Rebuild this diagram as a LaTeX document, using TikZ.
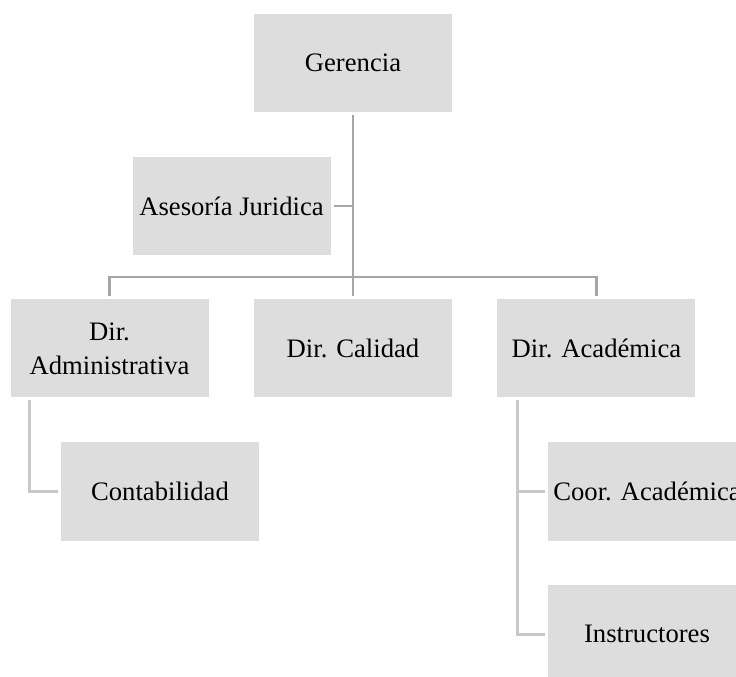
\documentclass[tikz,border=0pt]{standalone}
\usepackage{fontspec}
\setmainfont{Liberation Serif}
\usetikzlibrary{positioning}
\definecolor{boxgray}{HTML}{DDDDDD}
\definecolor{linegray}{HTML}{A6A6A6}
\definecolor{sublinegray}{HTML}{C8C8C8}

\begin{document}
\begin{tikzpicture}[x=0.75pt, y=-0.75pt, node distance={182.6pt},
  main/.style = {fill=boxgray, minimum width=148.5pt, minimum height=73.5pt, inner sep=0pt, outer sep=2.25pt, align=center, font=\fontsize{20}{20.5}\selectfont},
  tree/.style = {draw=linegray, line width=2.2pt},
  sub/.style = {draw=sublinegray, line width=2.2pt}]
\useasboundingbox (0,0) rectangle (736,677);
\clip (0,0) rectangle (736,677);
\node[main] (ger) at (353,63) {Gerencia};
\node[main] (ase) at (231.5,206) {Asesoría Juridica};
\node[main] (cal) at (353,348.5) {Dir. Calidad};
\node[main] (adm) [left of=cal] {Dir.\\[5pt]Administrativa};
\node[main] (aca) [right of=cal] {Dir. Académica};
\node[main] (cont) at (160,491.5) {Contabilidad};
\node[main] (coor) at (647,491.5) {Coor. Académica};
\node[main] (ins) [below of=coor, node distance=107pt] {Instructores};
\coordinate (bar) at (353,277);

\draw[tree] (ger) -- (cal);
\draw[tree] (ase) -- (ase -| ger);
\draw[tree] (adm) |- (bar) -| (aca);
\draw[sub] ([xshift=16.5pt]adm.south west) |- (cont);
\draw[sub] ([xshift=17pt]aca.south west) |- (coor);
\draw[sub] ([xshift=17pt]aca.south west) |- (ins);
\end{tikzpicture}
\end{document}
